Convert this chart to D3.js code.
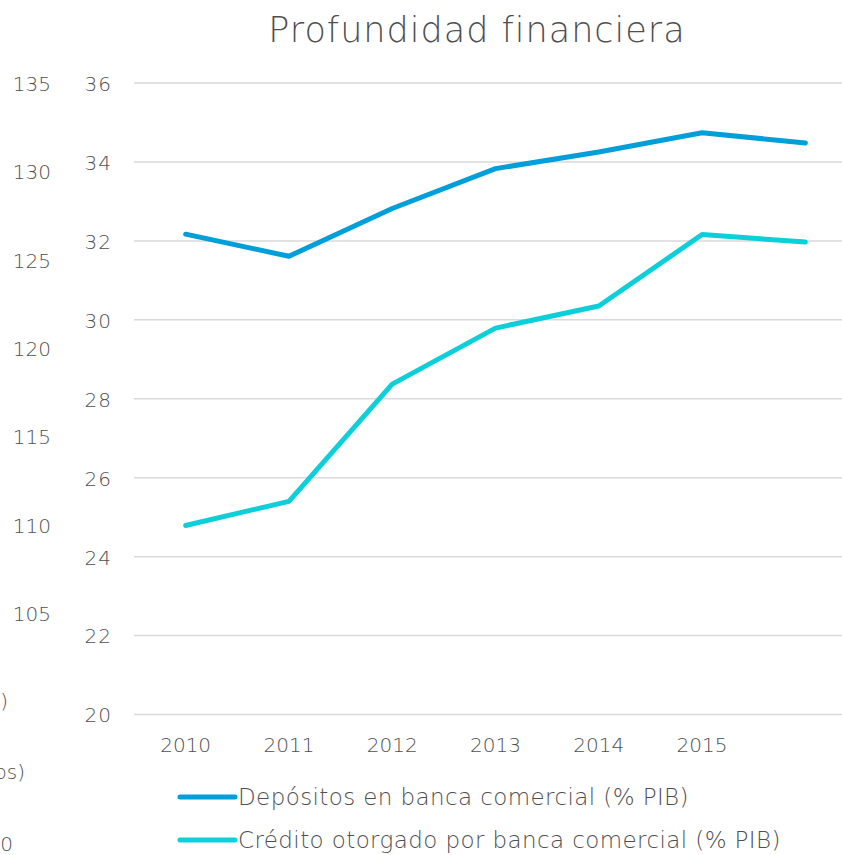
<!DOCTYPE html>
<html><head><meta charset="utf-8">
<script src="https://cdn.jsdelivr.net/npm/d3@7"></script>
<style>body{margin:0;background:#fff;}svg{display:block;font-family:"DejaVu Sans",sans-serif;font-weight:200;}</style>
</head><body>
<script>
const title = "Profundidad financiera";
const categories = ["2010","2011","2012","2013","2014","2015",""];
const depositos = [32.17, 31.61, 32.82, 33.83, 34.25, 34.74, 34.48];
const credito = [24.79, 25.40, 28.37, 29.79, 30.35, 32.16, 31.97];
const seriesNames = ["Depósitos en banca comercial (% PIB)", "Crédito otorgado por banca comercial (% PIB)"];
const seriesColors = ["#009FDA", "#0DCFDA"];
const rightTicks = [20,22,24,26,28,30,32,34,36];
const leftTicks = [105,110,115,120,125,130,135];
const fragments = [")", "os)", "0"];

const W = 842, H = 855;
const FONT = '"DejaVu Sans",sans-serif';
const svg = d3.select("body").append("svg").attr("width", W).attr("height", H);
const textColor = "#4F4F4F";

const x = d3.scaleBand().domain(categories.map((c,i)=>i)).range([134, 857]);
const y = d3.scaleLinear().domain([20, 36]).range([714.5, 83]);
const yL = d3.scaleLinear().domain([100, 135]).range([701.3, 83]);

// title
svg.append("text").attr("x", 477).attr("y", 42).attr("text-anchor","middle")
  .attr("font-size", 35).attr("letter-spacing", 1).attr("fill", textColor).text(title);

// gridlines
svg.append("g").selectAll("line").data(rightTicks).join("line")
  .attr("x1", 134).attr("x2", 857).attr("y1", d=>y(d)).attr("y2", d=>y(d))
  .attr("stroke", "#D9D9D9").attr("stroke-width", 1.5);

function styleAxis(g){
  g.select(".domain").remove();
  g.selectAll("text").attr("font-size", 20).attr("fill", textColor)
    .attr("font-family", FONT).attr("font-weight", 200);
}

// inner y axis labels
const gy = svg.append("g").attr("transform","translate(112,1)")
  .call(d3.axisLeft(y).tickValues(rightTicks).tickSize(0).tickPadding(0));
styleAxis(gy);
gy.selectAll("text").attr("letter-spacing", 1);

// outer (cut) y axis labels
const gl = svg.append("g").attr("transform","translate(51,1)")
  .call(d3.axisLeft(yL).tickValues(leftTicks).tickSize(0).tickPadding(0));
styleAxis(gl);

// fragments of neighbouring chart (cut at the left edge, as in the reference)
const fragPos = [[8,708],[25,779],[13,851]];
svg.append("g").selectAll("text").data(fragments).join("text")
  .attr("x",(d,i)=>fragPos[i][0]).attr("y",(d,i)=>fragPos[i][1])
  .attr("text-anchor","end").attr("font-size",20).attr("fill",textColor).text(d=>d);

// x axis labels
const gx = svg.append("g").attr("transform","translate(0,738)")
  .call(d3.axisBottom(x).tickFormat(i=>categories[i]).tickSize(0).tickPadding(0));
styleAxis(gx);

// lines
const line = d3.line().x((d,i)=>x(i)+x.bandwidth()/2).y(d=>y(d));
[depositos, credito].forEach((s,k)=>{
  svg.append("path").datum(s).attr("d", line).attr("fill","none")
    .attr("stroke", seriesColors[k]).attr("stroke-width", 5)
    .attr("stroke-linecap","round").attr("stroke-linejoin","round");
});

// legend
const leg = svg.append("g");
seriesNames.forEach((n,k)=>{
  const yy = 797 + k*43;
  leg.append("line").attr("x1",180).attr("x2",235).attr("y1",yy).attr("y2",yy)
    .attr("stroke",seriesColors[k]).attr("stroke-width",5).attr("stroke-linecap","round");
  leg.append("text").attr("x",238).attr("y",yy+8).attr("font-size",23)
    .attr("letter-spacing",0.4).attr("fill",textColor).text(n);
});
</script>
</body></html>
